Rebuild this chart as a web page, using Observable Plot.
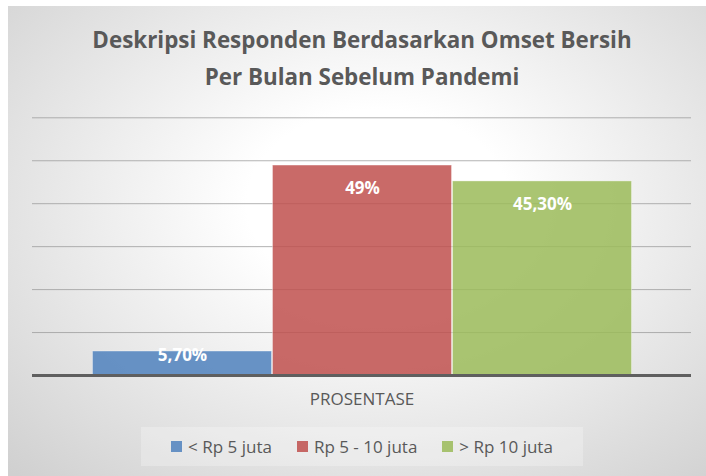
<!DOCTYPE html>
<html>
<head>
<meta charset="utf-8">
<script src="https://cdn.jsdelivr.net/npm/d3@7"></script>
<script src="https://cdn.jsdelivr.net/npm/@observablehq/plot@0.6"></script>
<style>
  html, body { margin: 0; padding: 0; background: #fff; }
  #page { position: relative; width: 706px; height: 476px; overflow: hidden; font-family: "Open Sans", sans-serif; }
  #bg { position: absolute; left: 8px; top: 6px; width: 698px; height: 470px;
        background: radial-gradient(ellipse 75% 80% at 53% 42%, #ffffff 25%, #d0d0d0 100%); }
  #title { position: absolute; left: 0; width: 706px; top: 21px; text-align: center; color: #595959;
           font-weight: 700; font-size: 22.4px; line-height: 37px; padding-left: 18px; box-sizing: border-box; }
  #plot { position: absolute; left: 0; top: 100px; }
  #legend { position: absolute; left: 141px; top: 427px; width: 442px; height: 39px;
            background: rgba(255,255,255,0.25); display: flex; align-items: center; justify-content: center;
            gap: 25px; color: #595959; font-size: 17px; }
  .item { display: flex; align-items: center; }
  .sw { width: 11px; height: 11px; margin-right: 6px; opacity: 0.85; }
</style>
</head>
<body>
<div id="page">
  <div id="bg"></div>
  <div id="title"></div>
  <div id="plot"></div>
  <div id="legend"></div>
</div>
<script>
const titleLines = ["Deskripsi Responden Berdasarkan Omset Bersih", "Per Bulan Sebelum Pandemi"];
const category = "PROSENTASE";
const series = ["< Rp 5 juta", "Rp 5 - 10 juta", "> Rp 10 juta"];
const values = [5.7, 49, 45.3];
const valueLabels = ["5,70%", "49%", "45,30%"];
const colors = ["#4F81BD", "#C0504D", "#9BBB59"];
const yTicks = [0, 10, 20, 30, 40, 50, 60];

const data = series.map((s, i) => ({cat: category, series: s, value: values[i], label: valueLabels[i]}));

document.getElementById("title").innerHTML = titleLines.map(t => `<div>${t}</div>`).join("");

const chart = Plot.plot({
  width: 706,
  height: 315,
  marginLeft: 32,
  marginRight: 15,
  marginTop: 17.3,
  marginBottom: 40,
  style: {background: "transparent", fontFamily: "Open Sans, sans-serif", fontSize: "17px", color: "#595959"},
  fx: {domain: [category], padding: 0, label: null},
  x: {domain: series, paddingOuter: 0.327, paddingInner: 0, axis: null},
  y: {domain: [0, 60], axis: null},
  color: {domain: series, range: colors},
  marks: [
    Plot.gridY(yTicks.filter(d => d > 0), {stroke: "#9a9a9a", strokeOpacity: 0.75}),
    Plot.barY(data, {fx: "cat", x: "series", y: "value", fill: "series", fillOpacity: 0.85,
                     stroke: "#ffffff", strokeOpacity: 0.35, strokeWidth: 1, inset: 0.5}),
    Plot.ruleY([0], {stroke: "#5f5f5f", strokeWidth: 3}),
    Plot.text(data.filter(d => d.value >= 10), {fx: "cat", x: "series", y: "value", text: "label",
              fill: "white", fontWeight: "bold", fontSize: 17, dy: 24}),
    Plot.text(data.filter(d => d.value < 10), {fx: "cat", x: "series", y: "value", text: "label",
              fill: "white", fontWeight: "bold", fontSize: 17, dy: 5}),
    Plot.axisFx({anchor: "bottom", tickSize: 0, tickPadding: 17, label: null, fontSize: 17})
  ]
});
document.getElementById("plot").appendChild(chart);

const legend = document.getElementById("legend");
series.forEach((s, i) => {
  const item = document.createElement("div");
  item.className = "item";
  const sw = document.createElement("div");
  sw.className = "sw";
  sw.style.background = colors[i];
  const lab = document.createElement("span");
  lab.textContent = s;
  item.appendChild(sw);
  item.appendChild(lab);
  legend.appendChild(item);
});
</script>
</body>
</html>
